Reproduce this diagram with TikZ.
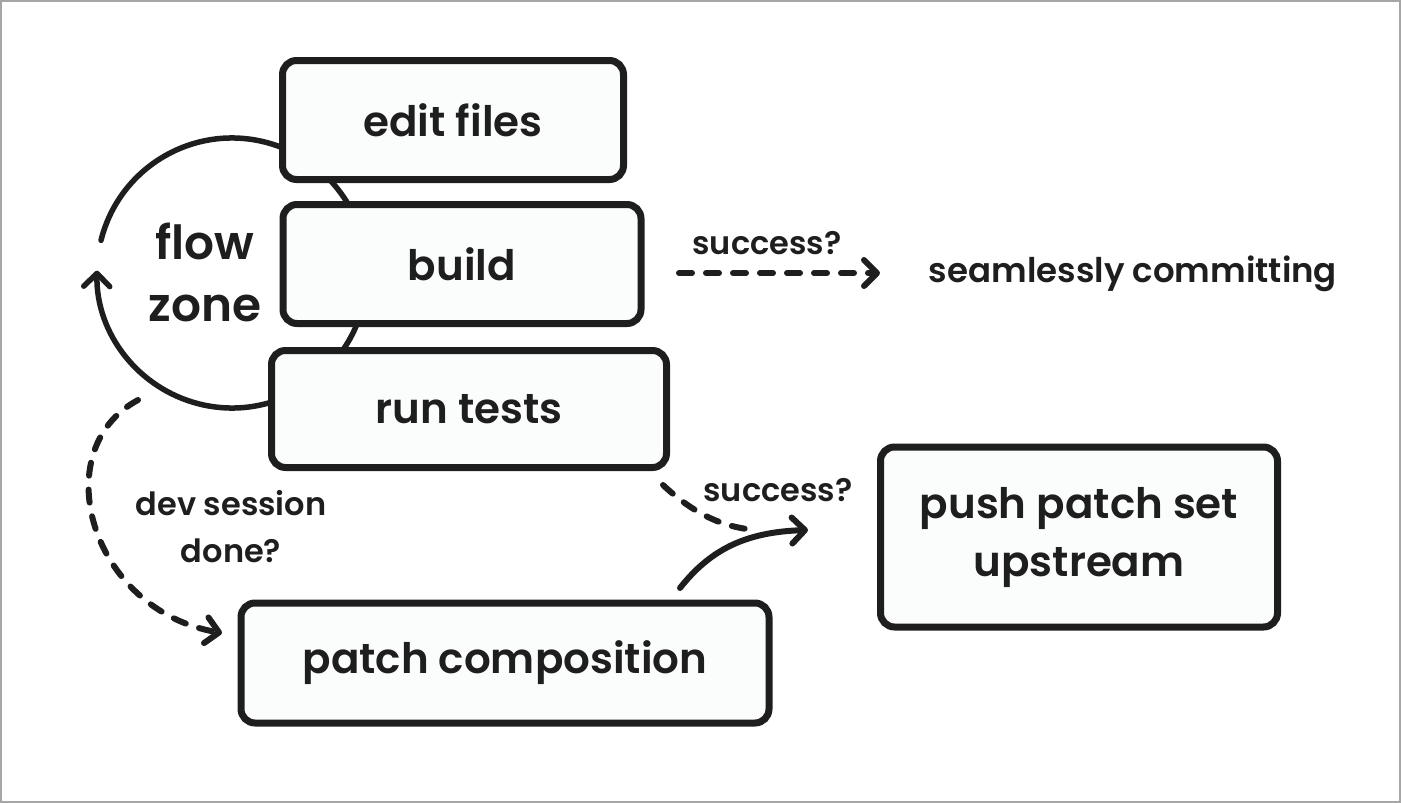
\documentclass[tikz,border=0pt]{standalone}
\usepackage{fontspec}
\setmainfont{Poppins SemiBold}
\usetikzlibrary{arrows.meta}
\definecolor{ink}{HTML}{1E1E1E}
\definecolor{boxfill}{HTML}{FBFCFC}
\tikzset{
  x=1pt, y=-1pt,
  stepbox/.style={draw=ink, line width=7pt, rounded corners=14pt, fill=boxfill,
    font=\fontsize{42}{58}\selectfont, text=ink, align=center, inner sep=0pt},
  lbl/.style={font=\fontsize{32}{47}\selectfont, text=ink, align=center},
  conn/.style={draw=ink, line width=6pt, line cap=round},
  dconn/.style={conn, dash pattern=on 13pt off 14pt},
  tip/.style={-{Straight Barb[length=13pt, width=26pt, line cap=round, line join=round]}},
}
\begin{document}
\begin{tikzpicture}
\useasboundingbox (0,0) rectangle (1401,803);
\draw[gray!70, line width=2pt] (1,1) rectangle (1400,802);
% loop circle behind the boxes
\coordinate (c) at (232,273);
\draw[conn, line width=5.5pt, tip] (c) ++(194:135) arc[start angle=194, end angle=541, radius=135];
% boxes
\node[stepbox, minimum width=341pt, minimum height=119pt] (edit) at (453,120) {edit files};
\node[stepbox, minimum width=358pt, minimum height=119pt] (build) at (462,264) {build};
\node[stepbox, minimum width=395pt, minimum height=117pt] (run) at (469,409) {run tests};
\node[stepbox, minimum width=528pt, minimum height=120pt] (patch) at (505,663) {patch composition};
\node[stepbox, minimum width=397pt, minimum height=180pt] (push) at (1079,537) {push patch set\\upstream};
% labels
\node[lbl, font=\fontsize{47}{62}\selectfont] (flow) at (205,272) {flow\\zone};
\node[lbl] (s1) at (767,243) {success?};
\node[lbl, font=\fontsize{34}{42}\selectfont] (seam) at (1133,274) {seamlessly committing};
\node[lbl] (s2) at (778,490) {success?};
\node[lbl] (dev) at (231,527) {dev session\\done?};
% connectors
\coordinate (a1) at (679,273);
\coordinate (a2) at (880,273);
\draw[dconn, tip] (a1) -- (a2);
\coordinate (r1) at (663,485);
\coordinate (r2) at (757,530);
\draw[dconn] (r1) .. controls (695,515) and (725,528) .. (r2);
\coordinate (p1) at (680,588);
\coordinate (p2) at (808,530);
\draw[conn, tip] (p1) .. controls (710,550) and (745,532) .. (p2);
\coordinate (d1) at (138,400);
\coordinate (d2) at (222,633);
\draw[dconn, tip] (d1) .. controls (45,450) and (90,610) .. (d2);
\end{tikzpicture}
\end{document}
